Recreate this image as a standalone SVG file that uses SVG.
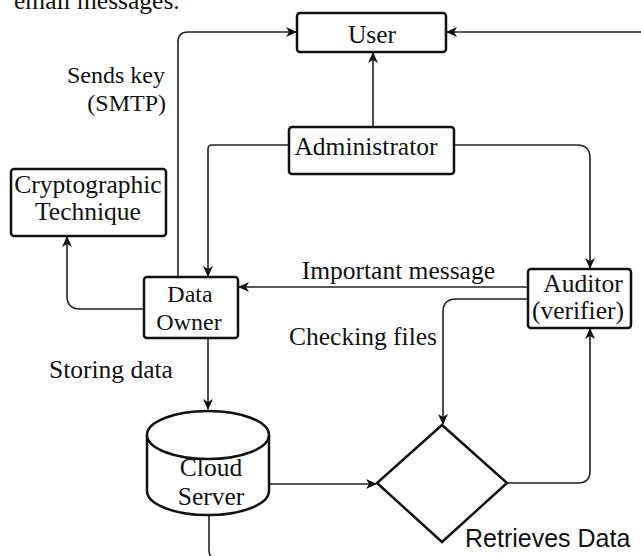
<svg xmlns="http://www.w3.org/2000/svg" width="641" height="556" viewBox="0 0 641 556">
<defs>
<style>
.box{fill:#fff;stroke:#111;stroke-width:2.5}
.t{font-family:"Liberation Serif","Times New Roman",serif;font-size:25.5px;fill:#111}
.sm{font-size:24px}
.s{font-family:"Liberation Sans",Arial,sans-serif;font-size:25px;fill:#111}
.c{fill:none;stroke:#222;stroke-width:1.6}
.m{text-anchor:middle}
.e{text-anchor:end}
</style>
<marker id="ah" markerUnits="userSpaceOnUse" markerWidth="12" markerHeight="10" refX="10" refY="5" orient="auto">
<path d="M0,0 L11,5 L0,10 L3,5 Z" fill="#111"/>
</marker>
</defs>
<rect width="641" height="556" fill="#fff"/>
<text class="t" x="14" y="9">email messages.</text>
<g id="connectors">
<path class="c" d="M373,127 V53" marker-end="url(#ah)"/>
<path class="c" d="M641,32 H447" marker-end="url(#ah)"/>
<path class="c" d="M178,277 V42 Q178,32 188,32 H296" marker-end="url(#ah)"/>
<path class="c" d="M289,145 H212 Q208,145 208,149 V276" marker-end="url(#ah)"/>
<path class="c" d="M454,145 H577 Q590,145 590,158 V268" marker-end="url(#ah)"/>
<path class="c" d="M528,287 H239" marker-end="url(#ah)"/>
<path class="c" d="M528,299 H456 Q443,299 443,312 V424" marker-end="url(#ah)"/>
<path class="c" d="M144,309 H80 Q67,309 67,296 V237" marker-end="url(#ah)"/>
<path class="c" d="M208,338 V409" marker-end="url(#ah)"/>
<path class="c" d="M269,484 H376" marker-end="url(#ah)"/>
<path class="c" d="M507,483 H578 Q590,483 590,471 V329" marker-end="url(#ah)"/>
<path class="c" d="M209,515 V550 Q209,560 219,560"/>
</g>
<g id="user">
<rect class="box" x="297" y="13" width="149" height="39" rx="3"/>
<text class="t m" x="372" y="43">User</text>
</g>
<g id="administrator">
<rect class="box" x="289" y="127" width="165" height="47" rx="3"/>
<text class="t m" x="366" y="155">Administrator</text>
</g>
<g id="crypto">
<rect class="box" x="11" y="169" width="155" height="67" rx="3"/>
<text class="t m" x="88" y="193">Cryptographic</text>
<text class="t m" x="88" y="220">Technique</text>
</g>
<g id="dataowner">
<rect class="box" x="144" y="277" width="94" height="61" rx="3"/>
<text class="t sm m" x="190" y="302">Data</text>
<text class="t sm m" x="189" y="330">Owner</text>
</g>
<g id="auditor">
<rect class="box" x="528" y="269" width="103" height="59" rx="3"/>
<text class="t m" x="583" y="292">Auditor</text>
<text class="t m" x="578" y="319">(verifier)</text>
</g>
<g id="cloud">
<path class="box" d="M147,435 A61,24 0 0 1 269,435 V491 A61,24 0 0 1 147,491 Z"/>
<path class="box" d="M147,435 A61,24 0 0 0 269,435" fill="none"/>
<text class="t m" x="211" y="476">Cloud</text>
<text class="t m" x="211" y="505">Server</text>
</g>
<g id="retrieve">
<path class="box" d="M442,425 L507,483 L442,542 L377,483 Z"/>
<text class="s" x="465" y="547">Retrieves Data</text>
</g>
<g id="labels">
<text class="t sm e" x="165" y="83">Sends key</text>
<text class="t sm e" x="166" y="111">(SMTP)</text>
<text class="t e" x="495" y="279">Important message</text>
<text class="t" x="289" y="345">Checking files</text>
<text class="t" x="49" y="378">Storing data</text>
</g>
</svg>
